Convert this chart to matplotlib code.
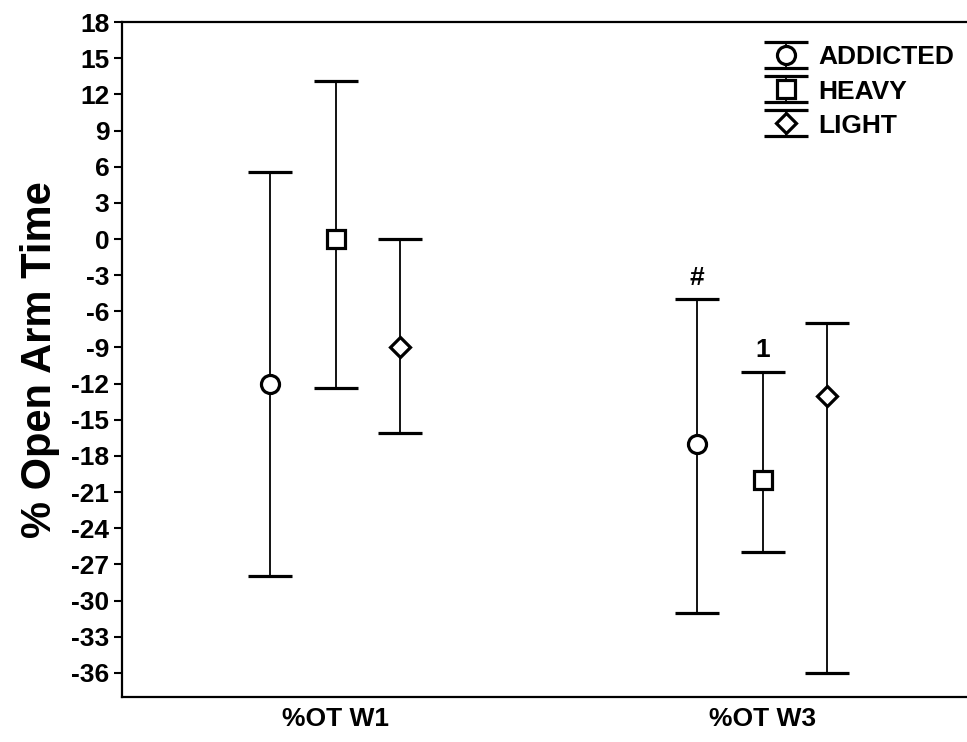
import matplotlib as mpl
mpl.use("Agg")
import matplotlib.pyplot as plt
import numpy as np

plt.rcParams['font.family'] = ['Liberation Sans', 'DejaVu Sans']
plt.rcParams['font.weight'] = 'bold'

# data
groups = ["%OT W1", "%OT W3"]
series = ["ADDICTED", "HEAVY", "LIGHT"]
means = {"ADDICTED": [-12, -17], "HEAVY": [0, -20], "LIGHT": [-9, -13]}
upper = {"ADDICTED": [5.6, -5], "HEAVY": [13.1, -11], "LIGHT": [0, -7]}
lower = {"ADDICTED": [-28, -31], "HEAVY": [-12.4, -26], "LIGHT": [-16.1, -36]}
marks = {"ADDICTED": ("o", 13), "HEAVY": ("s", 13), "LIGHT": ("D", 10.5)}
offsets = {"ADDICTED": -0.155, "HEAVY": 0.0, "LIGHT": 0.15}
notes = [("ADDICTED", 1, "#"), ("HEAVY", 1, "1")]
yticks = np.arange(-36, 19, 3)

fig = plt.figure(figsize=(9.67, 7.42), dpi=100)
ax = fig.add_axes([0.126, 0.0606, 0.874, 0.9097])

x = np.arange(len(groups))
for name in series:
    m = np.array(means[name])
    err = [m - np.array(lower[name]), np.array(upper[name]) - m]
    mk, ms = marks[name]
    ax.errorbar(x + offsets[name], m, yerr=err, fmt=mk, ms=ms,
                mfc="white", mec="black", mew=2.3, color="black",
                ecolor="black", elinewidth=1.3, capsize=16, capthick=1.3,
                label=name, zorder=3)

for name, gi, txt in notes:
    ax.text(gi + offsets[name], upper[name][gi] + 0.8, txt, ha="center",
            va="bottom", fontsize=19, fontweight="bold")

ax.set_xlim(-0.501, 1.478)
ax.set_ylim(-38, 18)
ax.set_yticks(yticks)
ax.set_yticklabels([str(v) for v in yticks], fontsize=19, fontweight="bold")
ax.set_xticks(x)
ax.set_xticklabels(groups, fontsize=19, fontweight="bold")
ax.tick_params(axis="x", length=0, pad=7)
ax.tick_params(axis="y", length=6, width=1.5, pad=3)
ax.spines["right"].set_visible(False)
for s in ["left", "top", "bottom"]:
    ax.spines[s].set_linewidth(1.6)

ax.set_ylabel("% Open Arm Time", fontsize=30, fontweight="bold", labelpad=8)

leg = ax.legend(loc="upper right", bbox_to_anchor=(0.994, 0.977), frameon=False,
                handlelength=1.6, handletextpad=0.4, labelspacing=0.38,
                borderaxespad=0.0, borderpad=0.3,
                prop={"weight": "bold", "size": 19})

fig.savefig("out.png", dpi=100)
